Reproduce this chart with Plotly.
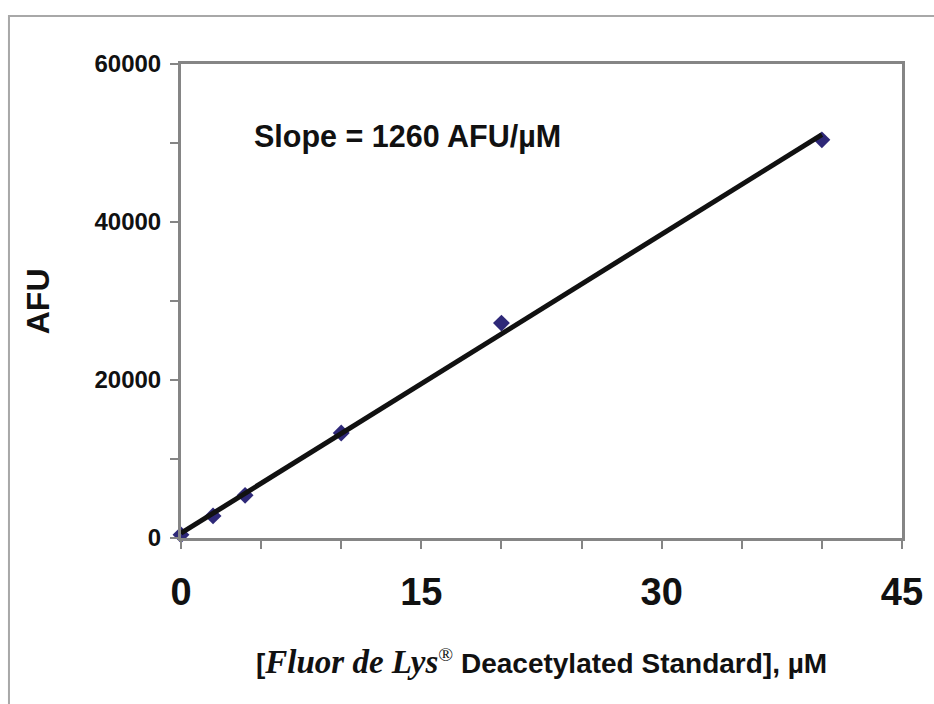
import numpy as np
import plotly.graph_objects as go

# Data
conc_uM = [0, 2, 4, 10, 20, 40]
afu = [400, 2800, 5400, 13300, 27200, 50400]

x_tick_vals = [0, 15, 30, 45]
x_tick_text = ["0", "15", "30", "45"]
y_tick_vals = [0, 20000, 40000, 60000]
y_tick_text = ["0", "20000", "40000", "60000"]
x_minor_step = 5
y_minor_step = 10000

slope_label = "Slope = 1260 AFU/µM"
x_title = ('[<span style="font-family:\'Liberation Serif\',\'DejaVu Serif\',serif;'
           'font-style:italic;font-weight:bold;font-size:33px">Fluor de Lys</span>'
           '<span style="font-family:\'Liberation Serif\',serif;font-weight:normal">'
           '<sup>®</sup></span> Deacetylated Standard], µM')
y_title = "AFU"

# Linear fit
slope, intercept = np.polyfit(conc_uM, afu, 1)
fit_x = [min(conc_uM), max(conc_uM)]
fit_y = [slope * v + intercept for v in fit_x]

FONT = "Liberation Sans, Arial, sans-serif"
NARROW = "Liberation Sans Narrow, Arial Narrow, Liberation Sans, sans-serif"
AXIS_GRAY = "#858585"

fig = go.Figure()
fig.add_trace(go.Scatter(
    x=conc_uM, y=afu, mode="markers",
    marker=dict(symbol="diamond", size=13, color="#2e2878"),
    showlegend=False, cliponaxis=False,
))
fig.add_trace(go.Scatter(
    x=fit_x, y=fit_y, mode="lines",
    line=dict(color="#111111", width=5),
    showlegend=False,
))

tick_common = dict(ticks="outside", ticklen=8, tickwidth=1.5, tickcolor=AXIS_GRAY)
fig.update_xaxes(
    range=[0, 45], tickvals=x_tick_vals, ticktext=x_tick_text,
    minor=dict(dtick=x_minor_step, tick0=0, **tick_common),
    showline=True, linecolor=AXIS_GRAY, linewidth=3, mirror=True,
    showgrid=False, zeroline=False,
    tickfont=dict(family=NARROW, size=38, color="#111111", weight="bold"),
    ticklabelstandoff=10,
    **tick_common,
)
fig.update_yaxes(
    range=[0, 60000], tickvals=y_tick_vals, ticktext=y_tick_text,
    minor=dict(dtick=y_minor_step, tick0=0, **tick_common),
    showline=True, linecolor=AXIS_GRAY, linewidth=3, mirror=True,
    showgrid=False, zeroline=False,
    tickfont=dict(family=FONT, size=24, color="#111111", weight="bold"),
    ticklabelstandoff=4,
    **tick_common,
)

fig.add_annotation(
    xref="paper", yref="paper", x=0.0985, y=0.846,
    xanchor="left", yanchor="middle", showarrow=False,
    text=slope_label,
    font=dict(family=FONT, size=30.5, color="#111111", weight="bold"),
)
fig.add_annotation(
    xref="paper", yref="paper", x=0.50, y=-0.262,
    xanchor="center", yanchor="middle", showarrow=False,
    text=x_title,
    font=dict(family=FONT, size=28, color="#111111", weight="bold"),
)
fig.add_annotation(
    xref="paper", yref="paper", x=-0.198, y=0.5,
    xanchor="center", yanchor="middle", showarrow=False, textangle=-90,
    text=y_title,
    font=dict(family=FONT, size=32, color="#111111", weight="bold"),
)

# Outer frame
fig.add_shape(
    type="rect", xref="paper", yref="paper",
    x0=-0.2386, y0=-0.5, x1=1.2, y1=1.1013,
    line=dict(color="#a8a8a8", width=2), layer="below",
)

fig.update_layout(
    width=934, height=704,
    margin=dict(l=181, r=32, t=64, b=166),
    paper_bgcolor="white", plot_bgcolor="white",
)

fig.write_html("out.html")
